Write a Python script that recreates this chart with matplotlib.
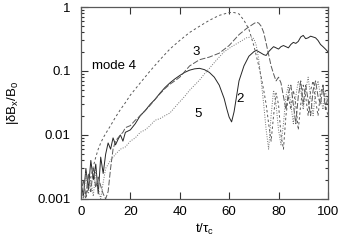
import matplotlib
matplotlib.use("Agg")
import matplotlib.pyplot as plt
from matplotlib.ticker import LogLocator, NullFormatter, FixedLocator

plt.rcParams['font.family'] = ['Liberation Sans', 'DejaVu Sans']
plt.rcParams['mathtext.fontset'] = 'custom'
plt.rcParams['mathtext.rm'] = 'Liberation Sans'
plt.rcParams['mathtext.it'] = 'Liberation Sans'

# mode 2 (solid)
t2 = [0, 1, 2, 3, 4, 5, 6, 7, 8, 9,
      10, 11, 12, 13, 14, 15, 16, 17, 18, 20,
      22, 24, 26, 28, 30, 32, 34, 36, 38, 40,
      42, 44, 46, 48, 50, 52, 54, 56, 58, 59,
      60, 61, 62, 63, 64, 66, 68, 70, 71, 72,
      73, 74, 75, 76, 77, 78, 79, 80, 81, 82,
      83, 84, 85, 86, 87, 88, 89, 90, 91, 92,
      93, 94, 95, 96, 97, 98, 99, 100]
b2 = [0.0018, 0.0011, 0.0030, 0.0014, 0.0040, 0.0020, 0.0035, 0.0012, 0.0045, 0.0025,
      0.0050, 0.0075, 0.0060, 0.0090, 0.0070, 0.0085, 0.0100, 0.0080, 0.0110, 0.0120,
      0.0150, 0.0200, 0.0240, 0.0300, 0.0360, 0.0450, 0.0550, 0.0650, 0.0750, 0.0850,
      0.0950, 0.1030, 0.1080, 0.1100, 0.1050, 0.0950, 0.0800, 0.0600, 0.0370, 0.0260,
      0.0190, 0.0160, 0.0230, 0.0400, 0.0700, 0.1200, 0.1700, 0.2000, 0.2100, 0.2000,
      0.1900, 0.1800, 0.1750, 0.2000, 0.2200, 0.2400, 0.2300, 0.2200, 0.2400, 0.2500,
      0.2400, 0.2300, 0.2600, 0.2800, 0.2700, 0.2900, 0.3400, 0.3600, 0.3200, 0.3300,
      0.3500, 0.3400, 0.3300, 0.3000, 0.2600, 0.2400, 0.2200, 0.2000]

# mode 3 (long dash)
t3 = [0, 1, 2, 3, 4, 5, 6, 7, 8, 9,
      10, 11, 12, 13, 14, 15, 16, 17, 18, 20,
      22, 24, 26, 28, 30, 32, 34, 36, 38, 40,
      44, 48, 52, 56, 60, 64, 67, 70, 71, 72,
      73, 74, 75, 76, 77, 78, 79, 80, 81, 82,
      83, 84, 85, 86, 87, 88, 89, 90, 91, 92,
      93, 94, 95, 96, 97, 98, 99, 100]
b3 = [0.0012, 0.0020, 0.0011, 0.0025, 0.0013, 0.0030, 0.0015, 0.0022, 0.0016, 0.0012,
      0.0010, 0.0013, 0.0030, 0.0060, 0.0080, 0.0090, 0.0100, 0.0110, 0.0130, 0.0140,
      0.0170, 0.0200, 0.0240, 0.0290, 0.0360, 0.0440, 0.0530, 0.0620, 0.0700, 0.0800,
      0.1200, 0.1500, 0.1650, 0.1900, 0.2500, 0.3700, 0.4600, 0.5500, 0.5800, 0.5600,
      0.5000, 0.4000, 0.2700, 0.1800, 0.1200, 0.0900, 0.0700, 0.0800, 0.0650, 0.0400,
      0.0250, 0.0450, 0.0600, 0.0300, 0.0150, 0.0400, 0.0700, 0.0300, 0.0600, 0.0350,
      0.0200, 0.0500, 0.0700, 0.0400, 0.0300, 0.0600, 0.0250, 0.0400]

# mode 4 (short dash)
t4 = [0, 1, 2, 3, 4, 5, 6, 7, 8, 9,
      10, 12, 14, 16, 18, 20, 24, 28, 32, 36,
      40, 44, 48, 52, 56, 60, 62, 64, 66, 68,
      70, 72, 73, 74, 75, 76, 77, 78, 79, 80,
      81, 82, 83, 84, 85, 86, 87, 88, 89, 90,
      91, 92, 93, 94, 95, 96, 97, 98, 99, 100]
b4 = [0.0011, 0.0013, 0.0010, 0.0016, 0.0022, 0.0032, 0.0045, 0.0060, 0.0075, 0.0090,
      0.0105, 0.0140, 0.0190, 0.0250, 0.0320, 0.0420, 0.0650, 0.1000, 0.1500, 0.2200,
      0.3000, 0.4000, 0.5000, 0.6200, 0.7400, 0.8200, 0.8200, 0.7800, 0.6200, 0.4500,
      0.2500, 0.1200, 0.0800, 0.0500, 0.0300, 0.0150, 0.0080, 0.0200, 0.0450, 0.0300,
      0.0100, 0.0060, 0.0200, 0.0400, 0.0250, 0.0500, 0.0300, 0.0120, 0.0300, 0.0600,
      0.0400, 0.0200, 0.0500, 0.0700, 0.0350, 0.0200, 0.0450, 0.0600, 0.0300, 0.0200]

# mode 5 (dotted)
t5 = [0, 1, 2, 3, 4, 5, 6, 7, 8, 9,
      10, 12, 14, 16, 18, 20, 22, 24, 26, 28,
      30, 32, 34, 36, 38, 40, 42, 44, 46, 48,
      50, 52, 55, 58, 61, 64, 67, 69, 70, 71,
      72, 73, 74, 75, 76, 77, 78, 79, 80, 81,
      82, 83, 84, 85, 86, 87, 88, 89, 90, 91,
      92, 93, 94, 95, 96, 97, 98, 99, 100]
b5 = [0.0015, 0.0010, 0.0025, 0.0012, 0.0020, 0.0011, 0.0028, 0.0015, 0.0010, 0.0018,
      0.0030, 0.0040, 0.0050, 0.0060, 0.0065, 0.0080, 0.0090, 0.0110, 0.0120, 0.0140,
      0.0170, 0.0180, 0.0200, 0.0220, 0.0270, 0.0330, 0.0400, 0.0500, 0.0600, 0.0720,
      0.0900, 0.1100, 0.1500, 0.2000, 0.2400, 0.2800, 0.3300, 0.3400, 0.3200, 0.2500,
      0.1500, 0.0700, 0.0300, 0.0120, 0.0060, 0.0200, 0.0500, 0.0300, 0.0120, 0.0070,
      0.0150, 0.0400, 0.0600, 0.0300, 0.0150, 0.0400, 0.0700, 0.0500, 0.0250, 0.0500,
      0.0800, 0.0400, 0.0200, 0.0500, 0.0700, 0.0400, 0.0250, 0.0500, 0.0300]

xticks = [0, 20, 40, 60, 80, 100]
yticks = [0.001, 0.01, 0.1, 1]
ytick_labels = ['0.001', '0.01', '0.1', '1']

fig = plt.figure(figsize=(3.43, 2.42), dpi=100)
ax = fig.add_axes([0.236, 0.178, 0.72, 0.793])

lw = 0.7
ax.plot(t2, b2, color='0.15', lw=lw, ls='-')
ax.plot(t3, b3, color='0.35', lw=lw, ls=(0, (6, 2)))
ax.plot(t4, b4, color='0.35', lw=lw, ls=(0, (2.5, 2.5)))
ax.plot(t5, b5, color='0.45', lw=lw, ls=(0, (1, 1.5)))

ax.set_yscale('log')
ax.set_xlim(0, 100)
ax.set_ylim(0.001, 1)
ax.xaxis.set_major_locator(FixedLocator(xticks))
ax.yaxis.set_major_locator(FixedLocator(yticks))
ax.set_yticklabels(ytick_labels)
ax.yaxis.set_minor_locator(LogLocator(base=10, subs=range(2, 10)))
ax.yaxis.set_minor_formatter(NullFormatter())
ax.tick_params(which='both', direction='in', top=True, right=True,
               labelsize=9.5, color='0.2', width=0.8)
ax.tick_params(axis='y', which='major', length=5, pad=7.5)
ax.tick_params(axis='x', which='major', length=5, pad=5)
ax.tick_params(which='minor', length=2.5)
ax.tick_params(axis='x', which='minor', bottom=False, top=False)
for s in ax.spines.values():
    s.set_color('0.35')
    s.set_linewidth(0.9)

ax.text(4.5, 0.12, 'mode 4', fontsize=9.5, ha='left', va='center')
ax.text(46.6, 0.2, '3', fontsize=9.5, ha='center', va='center')
ax.text(64.5, 0.036, '2', fontsize=9.5, ha='center', va='center')
ax.text(47.5, 0.021, '5', fontsize=9.5, ha='center', va='center')

ax.set_xlabel(r't/$\tau_\mathregular{c}$', fontsize=9.5, labelpad=3)
ax.set_ylabel(r'|$\delta$B$_\mathregular{x}$/B$_\mathregular{0}$', fontsize=9.5, labelpad=12)

fig.savefig('out.png', dpi=100)
